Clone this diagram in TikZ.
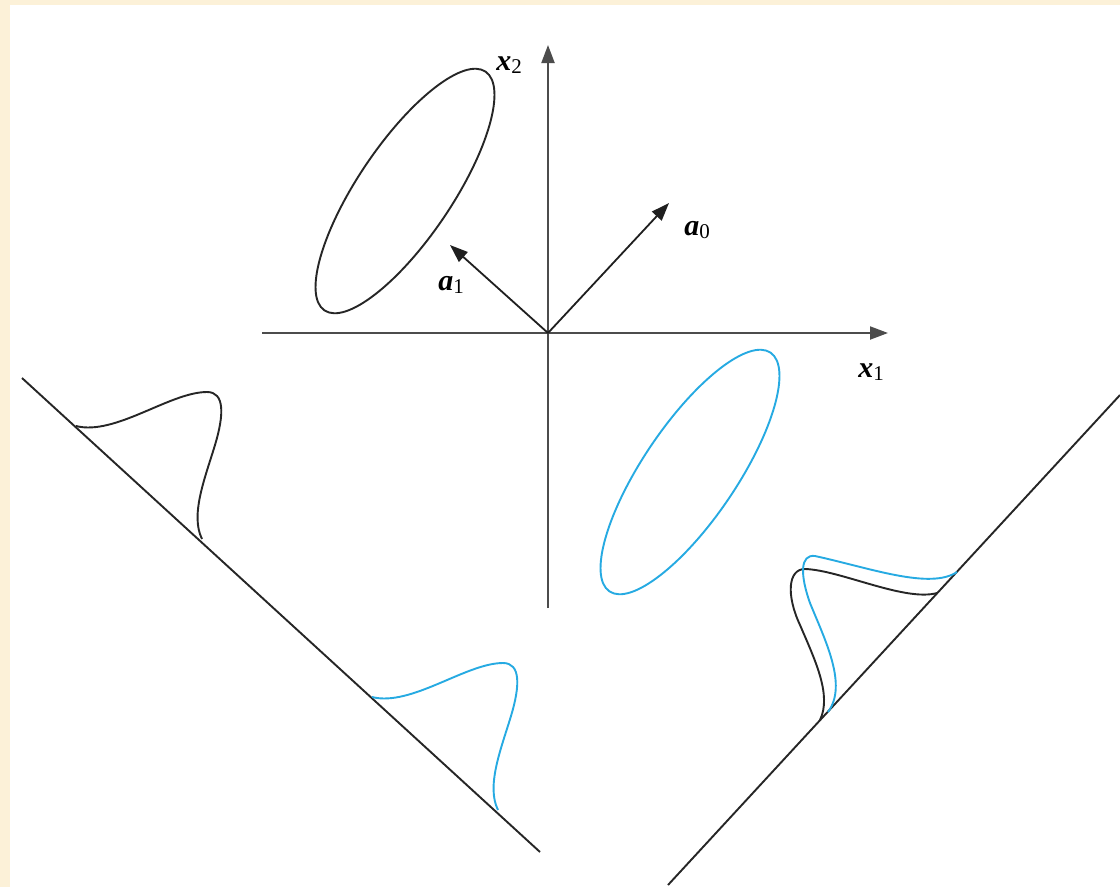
\documentclass[tikz,border=0pt]{standalone}
\usepackage{fontspec}
\setmainfont{Liberation Serif}
\usepackage{tikz}
\usetikzlibrary{arrows.meta}
\definecolor{pageCream}{RGB}{252,241,216}
\definecolor{projBlue}{RGB}{38,170,226}
\newcommand{\vlabel}[2]{{\fontsize{30}{34}\selectfont\bfseries\itshape #1}\raisebox{-0.3em}{\fontsize{21}{24}\selectfont #2}}
\tikzset{
  axis/.style={-{Triangle[length=18pt,width=13pt]},line width=2pt,black!70},
  dirarrow/.style={-{Triangle[length=18pt,width=13pt]},line width=1.8pt,black!88},
  projline/.style={line width=1.9pt,black!85},
  density/.style={line width=1.9pt,black!85},
}

\begin{document}
\begin{tikzpicture}[x=1pt,y=-1pt]

% page and frame
\useasboundingbox (0,0) rectangle (1120,887);
\fill[pageCream] (0,0) rectangle (1120,887);
\fill[white] (10,5) rectangle (1120,887);

% =================================================================
% axes and directions
% =================================================================
\coordinate (O)     at (548,333);
\coordinate (x1in)  at (262,333);
\coordinate (x1out) at (888,333);
\coordinate (x2in)  at (548,608);
\coordinate (x2out) at (548,45);
\coordinate (a0tip) at (669,203);
\coordinate (a1tip) at (450,245);

\draw[axis] (x1in) -- (x1out);
\draw[axis] (x2in) -- (x2out);
\draw[dirarrow] (O) -- (a0tip);
\draw[dirarrow] (O) -- (a1tip);

\node (x1lab) at (871,372) {\vlabel{x}{1}};
\node (x2lab) at (509,65)  {\vlabel{x}{2}};
\node (a0lab) at (697,230) {\vlabel{a}{0}};
\node (a1lab) at (451,285) {\vlabel{a}{1}};

% =================================================================
% the two classes
% =================================================================
\draw[density, shift={(405,191)}, rotate=56] (0,0) ellipse [x radius=144, y radius=47];
\draw[density, projBlue, shift={(690,472)}, rotate=56] (0,0) ellipse [x radius=144, y radius=47];

% =================================================================
% projection lines
% =================================================================
\coordinate (lA) at (22,378);
\coordinate (lB) at (540,852);
\coordinate (rA) at (668,885);
\coordinate (rB) at (1120,395);

\draw[projline] (lA) -- (lB);
\draw[projline] (rA) -- (rB);

% densities on the left line (well separated)
\draw[density] (76,426) .. controls (115,436) and (170,392) .. (207,392)
  .. controls (225,392) and (224,415) .. (215,445)
  .. controls (205,478) and (190,515) .. (202,539);
\draw[density, projBlue, shift={(296,271)}] (76,426) .. controls (115,436) and (170,392) .. (207,392)
  .. controls (225,392) and (224,415) .. (215,445)
  .. controls (205,478) and (190,515) .. (202,539);

% densities on the right line (overlapping)
\draw[density] (937,593) .. controls (905,602) and (840,570) .. (805,569)
  .. controls (788,569) and (786,595) .. (800,625)
  .. controls (815,660) and (832,695) .. (820,720);
\draw[density, projBlue] (957,572) .. controls (930,590) and (870,568) .. (815,556)
  .. controls (800,554) and (800,575) .. (810,603)
  .. controls (825,640) and (848,685) .. (828,712);

\end{tikzpicture}
\end{document}
